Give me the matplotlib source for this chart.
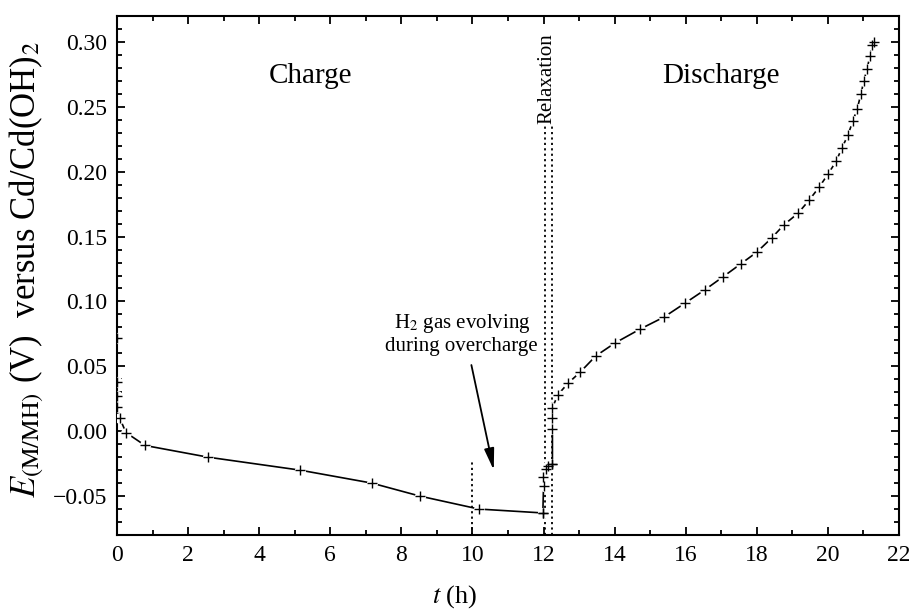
import numpy as np
import matplotlib
matplotlib.use("Agg")
from matplotlib import pyplot as plt
from matplotlib.ticker import MultipleLocator

plt.rcParams['font.family'] = ['Liberation Serif', 'DejaVu Serif']
plt.rcParams['mathtext.fontset'] = 'stix'

# charge branch (t in h, E in V)
charge_t = [0.0, 0.0, 0.0, 0.0, 0.08, 0.25, 0.79, 2.56, 5.15, 7.17, 8.52, 10.18, 11.98]
charge_E = [0.072, 0.038, 0.027, 0.019, 0.010, -0.001, -0.011, -0.020, -0.030, -0.040, -0.050, -0.060, -0.063]

# relaxation (open circuit)
relax_t = [11.98, 12.0, 11.98, 12.07, 12.12, 12.25]
relax_E = [-0.063, -0.042, -0.035, -0.029, -0.027, -0.025]

# discharge branch
dis_t = [12.25, 12.25, 12.25, 12.25, 12.4, 12.69, 13.03, 13.47, 14.01, 14.71, 15.39, 15.98,
         16.54, 17.05, 17.55, 18.0, 18.42, 18.76, 19.16, 19.47, 19.75, 20.0, 20.23, 20.39,
         20.56, 20.70, 20.82, 20.93, 21.01, 21.10, 21.18, 21.24, 21.29]
dis_E = [-0.025, 0.002, 0.010, 0.018, 0.028, 0.037, 0.0455, 0.058, 0.068, 0.0786, 0.088, 0.0987,
         0.109, 0.119, 0.129, 0.138, 0.149, 0.159, 0.168, 0.178, 0.188, 0.198, 0.208, 0.218,
         0.228, 0.239, 0.248, 0.260, 0.270, 0.279, 0.289, 0.298, 0.300]

relax_lines = [12.03, 12.23]
gas_line = 10.0

fig = plt.figure(figsize=(9.09, 6.09), dpi=100)
ax = fig.add_axes([0.1287, 0.1215, 0.8603, 0.8522])


def draw_branch(t, E):
    ax.plot(t, E, color='black', lw=1.2, zorder=2)
    # white blobs give the gaps around the markers
    ax.plot(t, E, ls='none', marker='o', ms=8, mfc='white', mec='none', zorder=3)
    ax.plot(t, E, ls='none', marker='+', ms=7, mew=1.0, color='black', zorder=4)


draw_branch(charge_t, charge_E)
draw_branch(relax_t, relax_E)
draw_branch(dis_t, dis_E)

for x in relax_lines:
    ax.plot([x, x], [-0.08, 0.235], color='black', lw=1.3, ls=(0, (1.2, 1.8)), zorder=1)
ax.plot([gas_line, gas_line], [-0.08, -0.022], color='black', lw=1.3, ls=(0, (1.2, 1.8)), zorder=1)

ax.text(5.43, 0.274, 'Charge', fontsize=21, ha='center', va='center')
ax.text(17.0, 0.274, 'Discharge', fontsize=21, ha='center', va='center')
ax.text(12.1, 0.272, 'Relaxation', fontsize=15, rotation=90, ha='center', va='center')
ax.text(9.7, 0.075, 'H$_2$ gas evolving\nduring overcharge', fontsize=15,
        ha='center', va='center', linespacing=1.15)
ax.annotate('', xy=(10.6, -0.030), xytext=(9.97, 0.051),
            arrowprops=dict(arrowstyle='-|>,head_length=1.3,head_width=0.3',
                            color='black', lw=1.3, shrinkA=0, shrinkB=0))

ax.set_xlim(0, 22)
ax.set_ylim(-0.08, 0.32)
ax.xaxis.set_major_locator(MultipleLocator(2))
ax.xaxis.set_minor_locator(MultipleLocator(1))
ax.yaxis.set_major_locator(MultipleLocator(0.05))
ax.yaxis.set_minor_locator(MultipleLocator(0.01))
ax.yaxis.set_major_formatter(plt.FuncFormatter(
    lambda v, p: ('%.2f' % (0.0 if abs(v) < 1e-9 else v)).replace('-', '\u2212')))

ax.tick_params(which='both', direction='in', top=True, right=True, labelsize=17, width=1.3)
ax.tick_params(which='major', length=6, pad=7)
ax.tick_params(which='minor', length=3.5)
for s in ax.spines.values():
    s.set_linewidth(1.5)

fig.text(455 / 909, 1 - 597 / 609, '$t$ (h)', fontsize=19, ha='center', va='center')
fig.text(27 / 909, 1 - 270 / 609, r'$E_{\rm (M/MH)}$ (V)  versus Cd/Cd(OH)$_2$',
         fontsize=25, rotation=90, ha='center', va='center')

fig.savefig('out.png', dpi=100)
